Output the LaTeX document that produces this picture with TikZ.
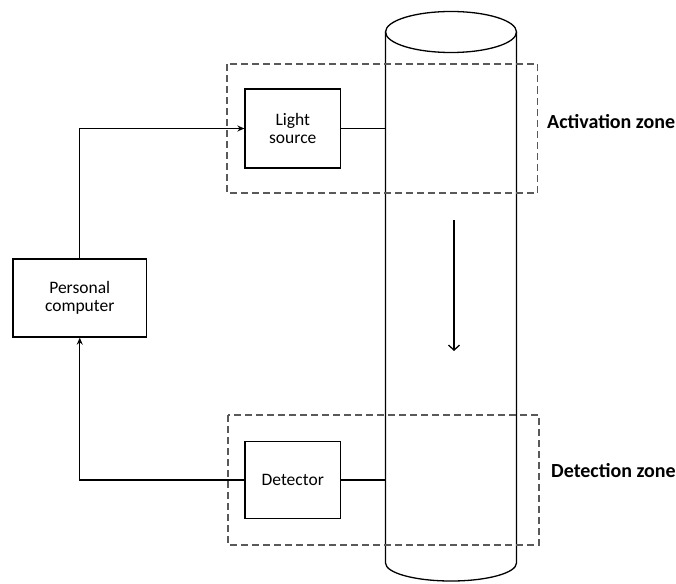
\documentclass[tikz,border=0pt]{standalone}
\usepackage{fontspec}
\setmainfont{Carlito}
\usetikzlibrary{arrows.meta}
\usetikzlibrary{positioning}

\tikzset{
	block/.style={draw,line width=1.3pt,align=center,inner sep=0pt,font=\fontsize{17.5}{18.5}\selectfont},
	zone/.style={draw=black!65,line width=1.4pt,dash pattern=on 7pt off 4pt},
	zonelabel/.style={anchor=base west,inner sep=0pt,font=\fontsize{20}{22}\selectfont\bfseries},
	wire/.style={line width=1.3pt},
}

\begin{document}
\begin{tikzpicture}[x=1pt,y=-1pt,>={Stealth[length=7pt,width=6pt]}]
		\useasboundingbox (0,0) rectangle (676,583);
		% column
		\draw[wire] (385.5,32) -- (385.5,563) arc[start angle=180,end angle=0,x radius=65.5,y radius=18] -- (516.5,32);
		\draw[wire] (451,32) ellipse[x radius=65.5,y radius=20.5];
		\coordinate (wallA) at (385.5,128.5);
		\coordinate (wallD) at (385.5,480);
		\coordinate (flowtop) at (454,220);
		\coordinate (flowbot) at (454,351);
		% zones
		\draw[zone] (227,64) rectangle (537.5,193);
		\draw[zone] (228,415) rectangle (539,545);
		\node[zonelabel] (actlabel) at (547,128.3) {Activation zone};
		\node[zonelabel] (detlabel) at (551,477.7) {Detection zone};
		% blocks
		\node[block,minimum width=95.5pt,minimum height=79pt] (light) at (292.75,128.5) {Light\\source};
		\node[block,minimum width=95.5pt,minimum height=77.5pt] (det) at (292.75,480) {Detector};
		\node[block,minimum width=133.5pt,minimum height=78pt] (pc) at (79.75,298) {Personal\\computer};
		% connections
		\draw[wire,->] (pc.north) |- (light.west);
		\draw[wire,->] (det.west) -| (pc.south);
		\draw[wire] (light.east) -- (wallA);
		\draw[wire] (det.east) -- (wallD);
		\draw[wire,-{Straight Barb[length=5pt,width=11pt]}] (flowtop) -- (flowbot);
\end{tikzpicture}
\end{document}
